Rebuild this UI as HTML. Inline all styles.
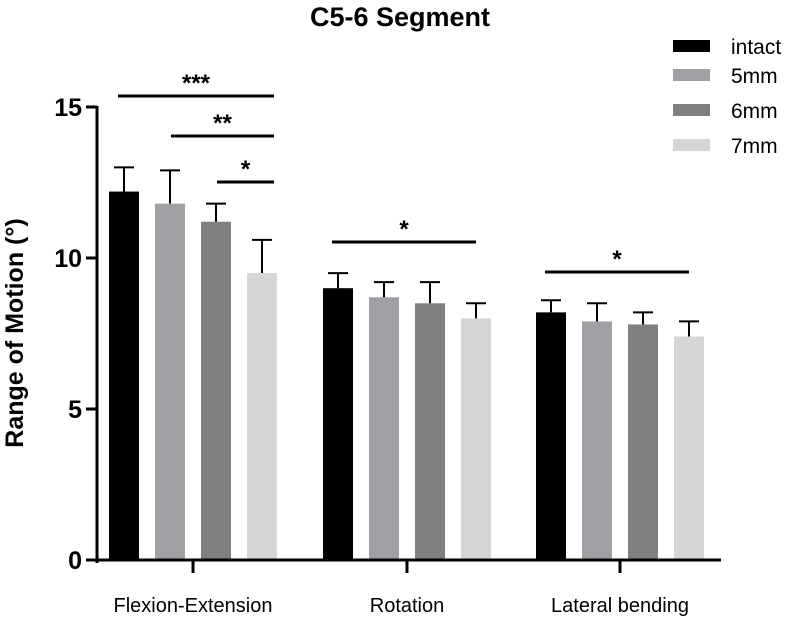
<!DOCTYPE html>
<html><head><meta charset="utf-8"><style>
body{margin:0;background:#fff;}
svg{display:block;font-family:"Liberation Sans",Arial,sans-serif;}
</style></head><body>
<svg id="chart" width="787" height="618" viewBox="0 0 787 618">
<text x="400" y="26" text-anchor="middle" font-size="27" font-weight="bold">C5-6 Segment</text>
<text transform="translate(23,333) rotate(-90)" text-anchor="middle" font-size="25" font-weight="bold">Range of Motion (°)</text>
<g id="plot"></g>
</svg>
<script>
const categories=["Flexion-Extension","Rotation","Lateral bending"];
const seriesNames=["intact","5mm","6mm","7mm"];
const intactVals=[12.2,9.0,8.2];
const mm5Vals=[11.8,8.7,7.9];
const mm6Vals=[11.2,8.5,7.8];
const mm7Vals=[9.5,8.0,7.4];
const intactErr=[0.8,0.5,0.4];
const mm5Err=[1.1,0.5,0.6];
const mm6Err=[0.6,0.7,0.4];
const mm7Err=[1.1,0.5,0.5];
const yTicks=[0,5,10,15];
const sigLabels=["***","**","*","*","*"];
const colors=["#000000","#a0a0a4","#808080","#d6d6d6"];
const NS="http://www.w3.org/2000/svg";
const g=document.getElementById('plot');
const y0=560,yScale=30.2;
function y(v){return y0-v*yScale;}
const groupCenters=[193,407,620];
function barX(gi,si){return groupCenters[gi]+(si-1.5)*46;}
function mk(tag,attrs,parent){const e=document.createElementNS(NS,tag);for(const k in attrs)e.setAttribute(k,attrs[k]);(parent||g).appendChild(e);return e;}
const vals=[intactVals,mm5Vals,mm6Vals,mm7Vals];
const errs=[intactErr,mm5Err,mm6Err,mm7Err];
for(let s=0;s<4;s++){for(let c=0;c<3;c++){
 const cx=barX(c,s),v=vals[s][c],e=errs[s][c];
 const ln=mk('line',{x1:cx,x2:cx,y1:y(v),y2:y(v+e),stroke:'#000','stroke-width':2});
 
 
 const cap=mk('line',{x1:cx-10,x2:cx+10,y1:y(v+e),y2:y(v+e),stroke:'#000','stroke-width':2});
 
 
 const r=mk('rect',{x:cx-15,y:y(v),width:30,height:y0-y(v),fill:colors[s]});
 
 
}}
const ya=mk('line',{x1:97,x2:97,y1:y(15)-1,y2:y0+3,stroke:'#000','stroke-width':3});


const xa=mk('line',{x1:95.5,x2:721,y1:y0,y2:y0,stroke:'#000','stroke-width':3});


yTicks.forEach(t=>{
 mk('line',{x1:86,x2:97,y1:y(t),y2:y(t),stroke:'#000','stroke-width':3});
 const tx=mk('text',{x:82,y:y(t)+9,'text-anchor':'end','font-size':25,'font-weight':'bold'});
 tx.textContent=t;
 
 
});
categories.forEach((c,i)=>{
 mk('line',{x1:groupCenters[i],x2:groupCenters[i],y1:y0,y2:y0+13,stroke:'#000','stroke-width':3});
 const tx=mk('text',{x:groupCenters[i],y:y0+52,'text-anchor':'middle','font-size':20});
 tx.textContent=c;
 
 
});
const sig=[[0,0,3,96],[0,1,3,136],[0,2,3,182],[1,0,3,242],[2,0,3,272]];
sig.forEach((s,i)=>{
 const x1=barX(s[0],s[1])+(s[1]===0?-6:1);
 const x2=barX(s[0],s[2])+(s[0]===0?12:0);
 const l=mk('line',{x1:x1,x2:x2,y1:s[3],y2:s[3],stroke:'#000','stroke-width':3});
 
 
 const t=mk('text',{x:(x1+x2)/2,y:s[3]-5,'text-anchor':'middle','font-size':24,'font-weight':'bold'});
 t.textContent=sigLabels[i];
 
 
});
const legY=[46,75,110,145];
seriesNames.forEach((n,i)=>{
 const r=mk('rect',{x:673,y:legY[i]-6,width:37,height:12,fill:colors[i]});
 
 
 const t=mk('text',{x:731,y:legY[i]+8,'font-size':21});
 t.textContent=n;
 
 
});
</script>
</body></html>
